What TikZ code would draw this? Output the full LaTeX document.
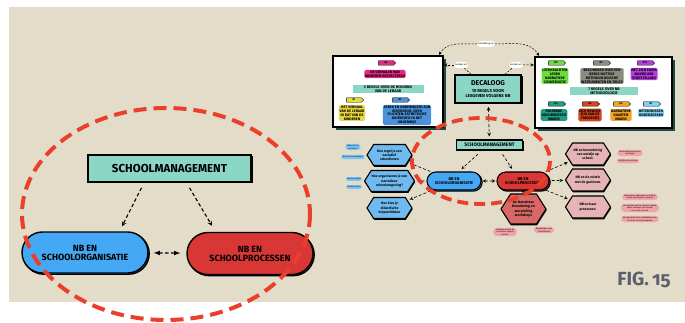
\documentclass[tikz,border=0pt]{standalone}
\usepackage{fontspec}
\setmainfont{Fira Sans}
\usetikzlibrary{calc, positioning, shapes.misc, shapes.symbols, shadows}
\definecolor{beige}{HTML}{E3DCC9}
\definecolor{mint}{HTML}{8CD6C6}
\definecolor{nbblue}{HTML}{45A8F5}
\definecolor{nbred}{HTML}{D93636}
\definecolor{hexblue}{HTML}{6FBAF0}
\definecolor{hexpink}{HTML}{E6B3B6}
\definecolor{hexred}{HTML}{D86767}
\definecolor{pillpink}{HTML}{F3A3A8}
\definecolor{pillblue}{HTML}{7DC3F6}
\definecolor{dashred}{HTML}{EA3F2B}
\definecolor{figgray}{HTML}{5B6070}
\definecolor{boxshade}{HTML}{1E4A45}
% regel colours
\definecolor{rMagenta}{HTML}{E02A85}
\definecolor{rYellow}{HTML}{E8D840}
\definecolor{rBlue}{HTML}{4C92DA}
\definecolor{rGreen}{HTML}{6CDC3C}
\definecolor{rGray}{HTML}{8C8B82}
\definecolor{rPurple}{HTML}{B43DE0}
\definecolor{rTeal}{HTML}{1F9C82}
\definecolor{rRust}{HTML}{D0451C}
\definecolor{rOrange}{HTML}{F0A324}
\definecolor{rSky}{HTML}{80D2F4}

\begin{document}
\begin{tikzpicture}[x=1pt, y=-1pt, >=stealth]
	\tikzset{mgmtBox/.style={draw=black, fill=mint, line width=1.6pt, inner sep=0pt, drop shadow={shadow xshift=1.5pt, shadow yshift=-1.5pt, fill=black, opacity=1}}}
	\tikzset{nbPill/.style={rounded rectangle, draw=black, line width=1.4pt, align=center, inner sep=0pt, copy shadow={shadow xshift=1.2pt, shadow yshift=-1.2pt}}}
	\tikzset{whiteBox/.style={draw=black, fill=white, line width=2.2pt, inner sep=0pt, drop shadow={shadow xshift=3pt, shadow yshift=-3pt, fill=boxshade, opacity=1}}}
	\tikzset{regel/.style={rounded corners=1.5pt, inner sep=0.8pt, align=center, font=\fontsize{3.6}{3.9}\bfseries\selectfont}}
	\tikzset{band/.style={fill=mint, inner sep=1pt, align=center, font=\fontsize{3.8}{4.2}\bfseries\selectfont}}
	\tikzset{tag/.style={signal, signal to=east, draw=black, line width=0.4pt, minimum width=17pt, minimum height=4.5pt, inner sep=0pt, font=\fontsize{2.6}{2.6}\bfseries\selectfont}}
	\tikzset{hexa/.style={signal, signal to=east and west, signal pointer angle=115, draw=black, line width=1.1pt, minimum width=45pt, align=center, inner sep=0.5pt, font=\fontsize{3.4}{4.2}\bfseries\selectfont, drop shadow={shadow xshift=0.6pt, shadow yshift=-1.3pt, fill=black, opacity=1}}}
	\tikzset{note/.style={rounded rectangle, inner sep=1pt, align=center, font=\fontsize{2.1}{2.4}\selectfont}}
	\tikzset{linkPill/.style={rounded rectangle, fill=white, inner sep=1pt, minimum height=6pt, font=\fontsize{2.4}{2.6}\selectfont}}
	\tikzset{thinDash/.style={dashed, line width=0.5pt, dash pattern=on 2pt off 1.5pt}}
	\tikzset{miniArrow/.style={->, densely dashed, line width=0.6pt, shorten <=2pt, shorten >=2pt}}
	\tikzset{bigArrow/.style={->, line width=1.1pt, dash pattern=on 3.5pt off 2.5pt}}
	\tikzset{ring/.style={draw=dashred, line width=4pt, dash pattern=on 13pt off 7pt}}
	\useasboundingbox (0,0) rectangle (685,323);
	\fill[white] (0,0) rectangle (685,323);
	\fill[beige] (9,7) rectangle (685,302);
	% left: zoomed part
	\node[mgmtBox, minimum width=163pt, minimum height=27pt, font=\fontsize{11.5}{12}\bfseries\selectfont] (mgmt) at (169.5,168.5) {SCHOOLMANAGEMENT};
	\node[nbPill, fill=nbblue, minimum width=126pt, minimum height=41pt, font=\fontsize{9}{9}\bfseries\selectfont] (org) at (85,252.5) {NB EN\\SCHOOLORGANISATIE};
	\node[nbPill, fill=nbred, minimum width=126pt, minimum height=42pt, font=\fontsize{9}{9}\bfseries\selectfont] (proc) at (250,253.5) {NB EN\\SCHOOLPROCESSEN};
	\draw[bigArrow] ([xshift=-28pt, yshift=-5pt]mgmt.south) -- ([xshift=37pt, yshift=5pt]org.north);
	\draw[bigArrow] ([xshift=20pt, yshift=-5pt]mgmt.south) -- ([xshift=-38pt, yshift=6pt]proc.north);
	\draw[bigArrow, <->, >=latex, shorten <=5pt, shorten >=6pt] (org) -- (proc);
	% right: whole map
	\node[whiteBox, minimum width=110pt, minimum height=71pt] (lbox) at (388,91.5) {};
	\node[whiteBox, minimum width=137pt, minimum height=71pt] (rbox) at (603.5,92.5) {};
	\foreach \name/\x/\y/\col/\tag in {t3/386/63/rMagenta/B3, t1/354/100/rYellow/B1, t2/400/100/rBlue/B2, t8/556/63/rGreen/B8, t9/601/63/rGray/B9, t10/645/63/rPurple/B10, t4/556/104/rTeal/B4, t5/590/104/rRust/B5, t6/621/104/rOrange/B6, t7/651/104/rSky/B7}
		{\node[tag, fill=\col] (\name) at (\x,\y) {\tag};}
	\node[regel, fill=rMagenta] (r3) at (385,74) {DE VERHALEN VAN\\KINDEREN RESPECTEREN};
	\node[band, minimum width=71pt] (houding) at (388,89) {3 REGELS OVER DE HOUDING\\VAN DE LERAAR};
	\node[regel, fill=rYellow] (r1) at (352,113) {HET VERHAAL\\VAN DE LERAAR\\IN DAT VAN DE\\KINDEREN};
	\node[regel, fill=rBlue] (r2) at (407,115) {LEREN EN ONDERWIJZEN ZIJN\\GENOEGENS, GEEN\\PLICHTEN: ESTHETISCHE\\ORIËNTATIE IN HET\\ONDERWIJS};
	\node[regel, fill=rGreen] (r8) at (555,76) {LEERKRACHTEN\\LEREN\\NARRATIEVE\\CONVERSATIE};
	\node[regel, fill=rGray] (r9) at (602,76) {BESCHIKKEN OVER EEN\\REEKS NUTTIGE\\METHODOLOGISCHE\\INSTRUMENTEN EN TRUCS};
	\node[regel, fill=rPurple] (r10) at (644,74) {MET ZICH EIGEN\\MAKEN VAN\\STORYTELLING};
	\node[band, minimum width=68pt] (methode) at (604,91) {7 REGELS OVER NB\\METHODOLOGIE};
	\node[regel, fill=rTeal] (r4) at (554,115) {PASSENDE\\DOCUMENTATIE\\MAKEN};
	\node[regel, fill=rRust] (r5) at (590,115) {ZICH BEWUST\\ZIJN VAN DE\\TRIGGER(S)};
	\node[regel, fill=rOrange] (r6) at (621,115) {NARRATIEVE\\KAARTEN\\MAKEN};
	\node[regel, fill=rSky] (r7) at (651,113) {BETEKENISSEN\\ONDERZOEKEN};
	\node[mgmtBox, minimum width=66pt, minimum height=28pt, align=center, font=\fontsize{4.3}{4.8}\bfseries\selectfont] (deca) at (488,89) {{\fontsize{7}{7}\selectfont DECALOOG}\\[2pt]10 REGELS VOOR\\LESGEVEN VOLGENS NB};
	\node[linkPill] (relPill) at (486,44) {betrekking op};
	\node[linkPill] (bu1) at (461,65) {bestaat uit};
	\node[linkPill] (bu2) at (516,65) {bestaat uit};
	\draw[thinDash, ->] (relPill.west) to[out=180, in=60] ([xshift=-5pt]lbox.north east);
	\draw[thinDash, ->] (relPill.east) to[out=0, in=120] ([xshift=5pt]rbox.north west);
	\draw[thinDash] ([xshift=-17pt]deca.north) -- (bu1);
	\draw[thinDash, ->] (bu1) -- (bu1 -| lbox.east);
	\draw[thinDash] ([xshift=17pt]deca.north) -- (bu2);
	\draw[thinDash, ->] (bu2) -- (bu2 -| rbox.west);
	\node[mgmtBox, line width=1.3pt, minimum width=66pt, minimum height=10pt, font=\fontsize{5}{5}\bfseries\selectfont] (sMgmt) at (489.5,145) {SCHOOLMANAGEMENT};
	\draw[<->, densely dashed, line width=0.7pt, shorten <=3pt, shorten >=3pt] (deca) -- (sMgmt);
	\node[nbPill, line width=1.1pt, fill=nbblue, minimum width=54pt, minimum height=18pt, font=\fontsize{4}{4.2}\bfseries\selectfont] (bOrg) at (454,181) {NB EN\\SCHOOLORGANISATIE};
	\node[nbPill, line width=1.1pt, fill=nbred, minimum width=52pt, minimum height=18pt, font=\fontsize{4}{4.2}\bfseries\selectfont] (rProc) at (523,181) {NB EN\\SCHOOLPROCESSEN};
	\draw[miniArrow] ([xshift=-10pt, yshift=-2pt]sMgmt.south) -- ([xshift=6pt, yshift=1pt]bOrg.north);
	\draw[miniArrow] ([xshift=12pt, yshift=-2pt]sMgmt.south) -- ([xshift=-10pt, yshift=1pt]rProc.north);
	\draw[<->, densely dashed, line width=0.6pt, shorten <=1pt, shorten >=1pt] (bOrg) -- (rProc);
	% questions and topics
	\foreach \name/\y/\txt in {q1/155/{Hoe regel je een\\narratief\\schoolleven}, q2/181/{Hoe organiseren je een\\narratieve\\schoolomgeving?}, q3/208/{Hoe kies je\\didactische\\hulpmiddelen}}
		{\node[hexa, fill=hexblue, minimum height=21pt] (\name) at (389.5,\y) {\txt};}
	\foreach \name/\y/\txt in {h1/154/{NB en bevordering\\van welzijn op\\school.}, h2/180/{NB en de relatie\\met de gezinnen.}, h3/207/{NB en haar\\processen.}}
		{\node[hexa, fill=hexpink, minimum height=22pt] (\name) at (588,\y) {\txt};}
	\node[hexa, fill=hexred, minimum height=30pt] (wk) at (523.5,209) {De Narratieve\\Benadering en\\storytelling\\workshops};
	\foreach \q in {q1, q2, q3} {\draw[miniArrow] (bOrg) -- (\q);}
	\foreach \h in {h1, h2, h3} {\draw[miniArrow] (rProc) -- (\h);}
	\draw[->, line width=0.6pt] (rProc) -- (wk);
	\foreach \name/\x/\y/\txt in {bn1/353/147/{Waar zijn de\\verhalen?}, bn2/353/157/{Wie zijn de vertellers?}, bn3/354/179/{Binnenruimtes}, bn4/354/187/{Buitenruimtes}}
		{\node[note, fill=pillblue] (\name) at (\x,\y) {\txt};}
	\foreach \name/\x/\y/\txt in {pn1/630/153/{Verbondenheid tussen\\leerlingen}, pn2/628/161/{Veiligheid op school}, pn3/640/197/{Vertrouwen opbouwen in de klas,\\tussen leerlingen en leraren}, pn4/640/208/{Het verhaal van de school in beeld,\\zodat iedereen het herkent\\en er zich in vindt}, pn5/640/219/{Een gedeelde taal ontwikkelen voor\\het leren en samenwerken}, pb1/505/232/{Teamleden leren de\\narratieve aanpak\\kennen}, pb2/544/230/{Opleidingen voor\\schoolteams}}
		{\node[note, fill=pillpink] (\name) at (\x,\y) {\txt};}
	% red rings
	\draw[ring] (166,214) ellipse [x radius=144, y radius=106];
	\draw[ring, line width=3.8pt, dash pattern=on 11pt off 6pt] (481,161) ellipse [x radius=69, y radius=43];
	\node[text=figgray, font=\fontsize{19}{19}\bfseries\selectfont] (fig) at (644,280) {FIG.\,\addfontfeature{Numbers=OldStyle}15};
\end{tikzpicture}
\end{document}
